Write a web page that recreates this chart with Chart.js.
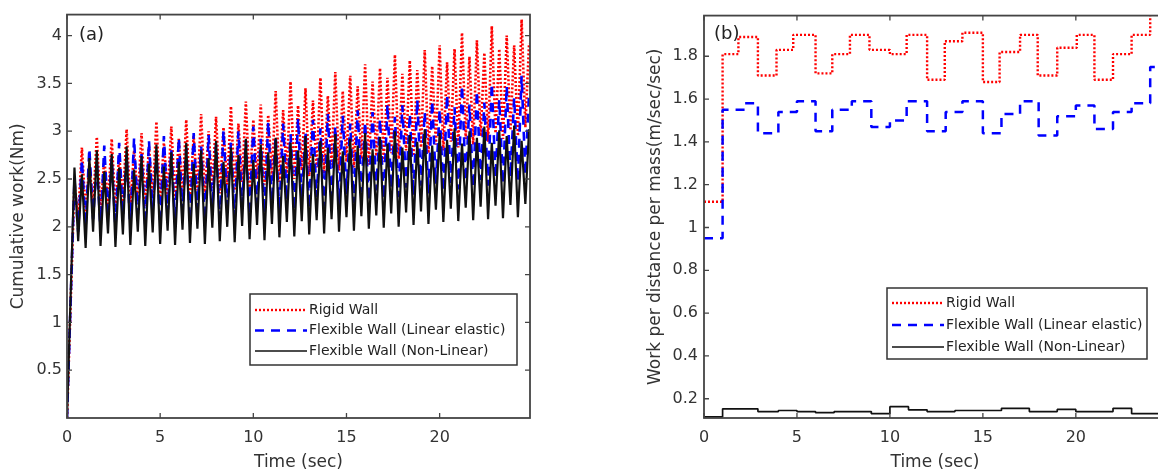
<!DOCTYPE html>
<html><head><meta charset="utf-8">
<script src="https://cdn.jsdelivr.net/npm/chart.js@4/dist/chart.umd.min.js"></script>
<style>
html,body{margin:0;padding:0;overflow:hidden;background:#fff;width:1158px;height:474px;}
#ca{position:absolute;left:0;top:0;}
#cb{position:absolute;left:620px;top:0;}
</style></head><body>
<canvas id="ca" width="560" height="474"></canvas>
<canvas id="cb" width="560" height="474"></canvas>
<script>
const seriesNames = ['Rigid Wall', 'Flexible Wall (Linear elastic)', 'Flexible Wall (Non-Linear)'];

// Panel (a): cumulative work (Nm), peaks and troughs
const timeA = [0,0.4,0.6,0.8,1,1.2,1.4,1.6,1.8,2,2.2,2.4,2.6,2.8,3,3.2,3.4,3.6,3.8,4,4.2,4.4,4.6,4.8,5,5.2,5.4,5.6,5.8,6,6.2,6.4,6.6,6.8,7,7.2,7.4,7.6,7.8,8,8.2,8.4,8.6,8.8,9,9.2,9.4,9.6,9.8,10,10.2,10.4,10.6,10.8,11,11.2,11.4,11.6,11.8,12,12.2,12.4,12.6,12.8,13,13.2,13.4,13.6,13.8,14,14.2,14.4,14.6,14.8,15,15.2,15.4,15.6,15.8,16,16.2,16.4,16.6,16.8,17,17.2,17.4,17.6,17.8,18,18.2,18.4,18.6,18.8,19,19.2,19.4,19.6,19.8,20,20.2,20.4,20.6,20.8,21,21.2,21.4,21.6,21.8,22,22.2,22.4,22.6,22.8,23,23.2,23.4,23.6,23.8,24,24.2,24.4,24.6,24.8];
const rigidA = [0,
2.45,2.10, 2.83,2.15, 2.66,2.22, 2.94,2.16, 2.72,2.24, 2.92,2.18, 2.75,2.26, 3.02,2.20, 2.80,2.28, 2.98,2.22,
2.84,2.31, 3.10,2.24, 2.88,2.33, 3.05,2.27, 2.92,2.36, 3.12,2.29, 2.95,2.38, 3.18,2.32, 3.00,2.41, 3.15,2.35,
3.04,2.44, 3.26,2.38, 3.08,2.47, 3.31,2.41, 3.12,2.50, 3.28,2.44, 3.17,2.53, 3.42,2.47, 3.22,2.56, 3.52,2.50,
3.27,2.59, 3.45,2.53, 3.32,2.62, 3.56,2.56, 3.37,2.65, 3.62,2.59, 3.42,2.68, 3.58,2.62, 3.47,2.71, 3.70,2.65,
3.52,2.74, 3.66,2.68, 3.56,2.77, 3.80,2.71, 3.60,2.80, 3.74,2.74, 3.64,2.83, 3.85,2.77, 3.68,2.86, 3.90,2.80,
3.72,2.89, 3.86,2.83, 4.03,2.92, 3.78,2.86, 3.95,2.95, 3.82,2.89, 4.10,2.98, 3.86,2.92, 4.00,3.01, 3.90,2.95,
4.17,3.04, 3.92];
const linearA = [0,
2.50,1.95, 2.70,2.00, 2.82,2.08, 2.68,1.97, 2.85,2.10, 2.72,1.98, 2.88,2.12, 2.74,2.00, 2.93,2.13, 2.76,2.01,
2.90,2.14, 2.78,2.03, 2.95,2.15, 2.80,2.04, 2.93,2.17, 2.82,2.06, 2.98,2.18, 2.84,2.07, 2.96,2.20, 2.86,2.09,
3.01,2.21, 2.88,2.10, 3.00,2.23, 2.90,2.12, 3.05,2.24, 2.92,2.14, 3.10,2.26, 2.95,2.15, 3.08,2.28, 2.97,2.17,
3.13,2.29, 3.00,2.19, 3.12,2.31, 3.03,2.21, 3.18,2.32, 3.05,2.23, 3.16,2.34, 3.08,2.25, 3.22,2.36, 3.10,2.27,
3.20,2.38, 3.13,2.29, 3.28,2.40, 3.15,2.31, 3.27,2.41, 3.18,2.33, 3.33,2.43, 3.20,2.35, 3.32,2.45, 3.23,2.37,
3.38,2.46, 3.25,2.39, 3.48,2.48, 3.28,2.41, 3.42,2.49, 3.30,2.43, 3.50,2.51, 3.33,2.45, 3.47,2.52, 3.35,2.47,
3.58,2.54, 3.40];
const nonlinA = [0,
2.62,1.85, 2.55,1.78, 2.72,1.95, 2.80,1.80, 2.58,1.93, 2.76,1.79, 2.62,1.92, 2.84,1.81, 2.60,1.95, 2.74,1.80,
2.66,1.94, 2.86,1.82, 2.63,1.96, 2.78,1.81, 2.68,1.97, 2.88,1.83, 2.66,1.98, 2.80,1.82, 2.72,1.99, 2.90,1.85,
2.68,2.00, 2.83,1.84, 2.75,2.01, 2.92,1.87, 2.70,2.02, 2.86,1.86, 2.78,2.03, 2.93,1.89, 2.74,2.05, 2.88,1.90,
2.80,2.06, 2.95,1.92, 2.76,2.07, 2.90,1.93, 2.83,2.08, 2.97,1.95, 2.79,2.10, 2.92,1.96, 2.85,2.11, 2.98,1.98,
2.81,2.12, 2.94,1.99, 2.87,2.14, 3.00,2.00, 2.83,2.15, 2.96,2.02, 2.89,2.16, 3.02,2.03, 2.85,2.18, 2.98,2.05,
2.91,2.19, 3.03,2.06, 2.87,2.20, 3.00,2.07, 2.93,2.21, 3.05,2.08, 2.88,2.22, 3.01,2.09, 2.95,2.23, 3.06,2.10,
2.90,2.24, 3.02];

// Panel (b): work per distance per mass, step values (time of change, value held)
const timeRigidB = [0,1.0,1.85,2.9,3.9,4.8,6.0,6.9,7.85,8.9,10.0,10.9,12.0,12.95,13.9,15.0,15.9,17.0,17.95,19.0,20.05,21.0,22.0,23.0,24.0,24.85];
const rigidB = [1.12,1.81,1.89,1.71,1.83,1.90,1.72,1.81,1.90,1.83,1.81,1.90,1.69,1.87,1.91,1.68,1.82,1.90,1.71,1.84,1.90,1.69,1.81,1.90,2.0,2.0];
const timeLinearB = [0,1.0,2.2,2.9,4.0,5.0,6.0,6.9,7.95,9.0,10.0,10.9,12.0,13.0,13.9,15.0,16.0,17.0,18.0,19.0,20.0,21.0,22.0,23.0,24.0,24.85];
const linearB = [0.95,1.55,1.58,1.44,1.54,1.59,1.45,1.55,1.59,1.47,1.50,1.59,1.45,1.54,1.59,1.44,1.53,1.59,1.43,1.52,1.57,1.46,1.54,1.58,1.75,1.75];
const timeNonlinB = [0,1.0,2.9,4.0,5.0,6.0,7.0,9.0,10.0,11.0,12.0,13.5,15.0,16.0,17.5,19.0,20.0,22.0,23.0,24.0,24.85];
const nonlinB = [0.115,0.153,0.14,0.145,0.14,0.135,0.14,0.13,0.163,0.148,0.14,0.145,0.145,0.155,0.14,0.15,0.14,0.155,0.13,0.13,0.13];

const xTicks = [0,5,10,15,20];
const yTicksA = [0.5,1,1.5,2,2.5,3,3.5,4];
const yTicksB = [0.2,0.4,0.6,0.8,1,1.2,1.4,1.6,1.8];

const FONT = '"DejaVu Sans", sans-serif';
const STY = [
  {color:'#ff0000', width:2.4, dash:[2,2]},
  {color:'#0000ff', width:2.5, dash:[9,7]},
  {color:'#111111', width:1.6, dash:[]}
];

function framePlugin(opt) {
  return {
    id: 'frame' + opt.tag,
    afterDraw(chart) {
      const {ctx, chartArea: a, scales} = chart;
      ctx.save();
      ctx.strokeStyle = '#444'; ctx.lineWidth = 1.8;
      ctx.strokeRect(a.left, a.top, a.right - a.left, a.bottom - a.top);
      ctx.lineWidth = 1.3;
      ctx.beginPath();
      xTicks.forEach(v => {
        const px = scales.x.getPixelForValue(v);
        ctx.moveTo(px, a.bottom); ctx.lineTo(px, a.bottom - 5);
        ctx.moveTo(px, a.top); ctx.lineTo(px, a.top + 5);
      });
      opt.yTicks.forEach(v => {
        const py = scales.y.getPixelForValue(v);
        ctx.moveTo(a.left, py); ctx.lineTo(a.left + 5, py);
        ctx.moveTo(a.right, py); ctx.lineTo(a.right - 5, py);
      });
      ctx.stroke();
      ctx.fillStyle = '#222'; ctx.font = '18px ' + FONT;
      ctx.textBaseline = 'middle'; ctx.textAlign = 'left';
      ctx.fillText(opt.tag, a.left + opt.tagDx, a.top + opt.tagDy);
      const L = opt.legend;
      ctx.fillStyle = '#fff'; ctx.fillRect(L.x, L.y, L.w, L.h);
      ctx.strokeStyle = '#333'; ctx.lineWidth = 1.5; ctx.strokeRect(L.x, L.y, L.w, L.h);
      chart.data.datasets.forEach((d, i) => {
        const y = L.y + L.row0 + i * L.gap;
        ctx.save();
        ctx.strokeStyle = STY[i].color; ctx.lineWidth = STY[i].width; ctx.setLineDash(STY[i].dash);
        ctx.beginPath(); ctx.moveTo(L.x + 5, y); ctx.lineTo(L.x + 57, y); ctx.stroke();
        ctx.restore();
        ctx.fillStyle = '#222'; ctx.font = '14px ' + FONT;
        ctx.textBaseline = 'middle'; ctx.textAlign = 'left';
        ctx.fillText(d.label, L.x + 59, y);
      });
      ctx.restore();
    }
  };
}

function makeChart(id, opt) {
  const datasets = opt.series.map((s, i) => ({
    label: seriesNames[i],
    data: s.t.map((t, j) => ({x: t, y: s.v[j]})),
    borderColor: STY[i].color, borderWidth: opt.widths[i], borderDash: STY[i].dash,
    borderCapStyle: 'butt', borderJoinStyle: 'bevel',
    pointRadius: 0, fill: false, tension: 0, stepped: opt.stepped, order: 3 - i
  }));
  return new Chart(document.getElementById(id), {
    type: 'line',
    data: {datasets},
    options: {
      responsive: false, animation: false, events: [],
      layout: {padding: {left: 0, top: 12, right: opt.padRight, bottom: 0}},
      plugins: {legend: {display: false}, tooltip: {enabled: false}},
      scales: {
        x: {
          type: 'linear', min: 0, max: 24.85,
          grid: {display: false, drawTicks: false}, border: {display: false},
          afterBuildTicks: s => { s.ticks = xTicks.map(v => ({value: v})); },
          afterFit: s => { s.height = 56; },
          ticks: {padding: 10, color: '#333', font: {family: FONT, size: 16}, maxRotation: 0, autoSkip: false,
                  callback: v => String(v)},
          title: {display: true, text: 'Time (sec)', color: '#333', font: {family: FONT, size: 17},
                  padding: {top: 0, bottom: 1}}
        },
        y: {
          type: 'linear', min: opt.ymin, max: opt.ymax,
          grid: {display: false, drawTicks: false}, border: {display: false},
          afterBuildTicks: s => { s.ticks = opt.yTicks.map(v => ({value: v})); },
          afterFit: s => { s.width = opt.yW; },
          ticks: {padding: opt.yPad, color: '#333', font: {family: FONT, size: 16}, autoSkip: false,
                  callback: v => String(v)},
          title: {display: true, text: opt.yTitle, color: '#333', font: {family: FONT, size: 17},
                  padding: {top: opt.titlePad, bottom: 0}}
        }
      }
    },
    plugins: [framePlugin(opt)]
  });
}

makeChart('ca', {
  tag: '(a)', tagDx: 12, tagDy: 21,
  series: [{t: timeA, v: rigidA}, {t: timeA, v: linearA}, {t: timeA, v: nonlinA}],
  widths: [2.6, 2.6, 2.2],
  stepped: false, padRight: 30, ymin: 0, ymax: 4.22, yTicks: yTicksA, yW: 67, yPad: 5,
  yTitle: 'Cumulative work(Nm)', titlePad: 8,
  legend: {x: 250, y: 294, w: 267, h: 71, row0: 16, gap: 20.5}
});
makeChart('cb', {
  tag: '(b)', tagDx: 10, tagDy: 19,
  series: [{t: timeRigidB, v: rigidB}, {t: timeLinearB, v: linearB}, {t: timeNonlinB, v: nonlinB}],
  widths: [2.4, 2.5, 1.7],
  stepped: true, padRight: 14, ymin: 0.11, ymax: 1.99, yTicks: yTicksB, yW: 84, yPad: 6,
  yTitle: 'Work per distance per mass(m/sec/sec)', titlePad: 25,
  legend: {x: 267, y: 288, w: 260, h: 71, row0: 15, gap: 22}
});
</script>
</body></html>
